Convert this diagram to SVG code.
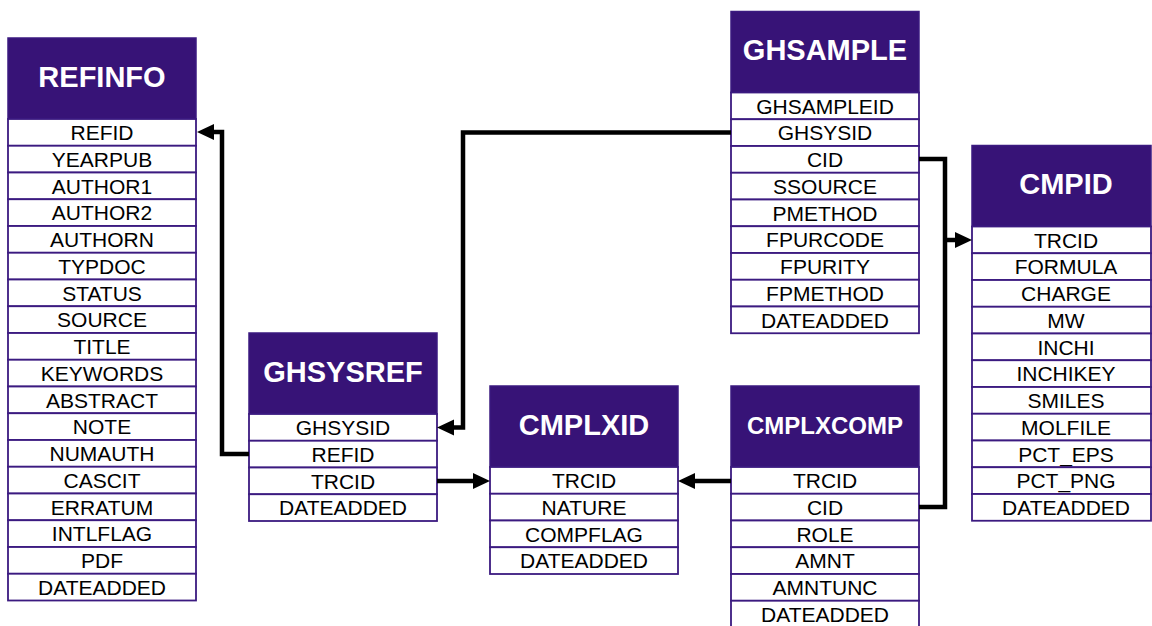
<svg xmlns="http://www.w3.org/2000/svg" width="1152" height="626" viewBox="0 0 1152 626">
<style>
.hd{fill:#371377;stroke:#3b1a80;stroke-width:1.5}
.row{fill:#fff;stroke:#3b1a80;stroke-width:1.8}
.ht{font-family:"Liberation Sans",Arial,sans-serif;font-weight:bold;font-size:29px;fill:#fff;text-anchor:middle}
.rt{font-family:"Liberation Sans",Arial,sans-serif;font-size:21px;fill:#000;text-anchor:middle}
.cn{fill:none;stroke:#000;stroke-width:4.5;stroke-linejoin:miter}
</style>
<defs>
<marker id="ah" markerUnits="userSpaceOnUse" markerWidth="18" markerHeight="18" viewBox="0 -9 18 18" refX="0" refY="0" orient="auto"><path d="M0,-8 L17,0 L0,8 z" fill="#000"/></marker>
</defs>
<rect width="1152" height="626" fill="#fff"/>

<g id="REFINFO">
<rect class="hd" x="8" y="38" width="188" height="81"/>
<text class="ht" x="102" y="86.5">REFINFO</text>
<rect class="row" x="8" y="119" width="188" height="26.75"/><text class="rt" x="102" y="140">REFID</text>
<rect class="row" x="8" y="145.75" width="188" height="26.75"/><text class="rt" x="102" y="166.75">YEARPUB</text>
<rect class="row" x="8" y="172.5" width="188" height="26.75"/><text class="rt" x="102" y="193.5">AUTHOR1</text>
<rect class="row" x="8" y="199.25" width="188" height="26.75"/><text class="rt" x="102" y="220.25">AUTHOR2</text>
<rect class="row" x="8" y="226" width="188" height="26.75"/><text class="rt" x="102" y="247">AUTHORN</text>
<rect class="row" x="8" y="252.75" width="188" height="26.75"/><text class="rt" x="102" y="273.75">TYPDOC</text>
<rect class="row" x="8" y="279.5" width="188" height="26.75"/><text class="rt" x="102" y="300.5">STATUS</text>
<rect class="row" x="8" y="306.25" width="188" height="26.75"/><text class="rt" x="102" y="327.25">SOURCE</text>
<rect class="row" x="8" y="333" width="188" height="26.75"/><text class="rt" x="102" y="354">TITLE</text>
<rect class="row" x="8" y="359.75" width="188" height="26.75"/><text class="rt" x="102" y="380.75">KEYWORDS</text>
<rect class="row" x="8" y="386.5" width="188" height="26.75"/><text class="rt" x="102" y="407.5">ABSTRACT</text>
<rect class="row" x="8" y="413.25" width="188" height="26.75"/><text class="rt" x="102" y="434.25">NOTE</text>
<rect class="row" x="8" y="440" width="188" height="26.75"/><text class="rt" x="102" y="461">NUMAUTH</text>
<rect class="row" x="8" y="466.75" width="188" height="26.75"/><text class="rt" x="102" y="487.75">CASCIT</text>
<rect class="row" x="8" y="493.5" width="188" height="26.75"/><text class="rt" x="102" y="514.5">ERRATUM</text>
<rect class="row" x="8" y="520.25" width="188" height="26.75"/><text class="rt" x="102" y="541.25">INTLFLAG</text>
<rect class="row" x="8" y="547" width="188" height="26.75"/><text class="rt" x="102" y="568">PDF</text>
<rect class="row" x="8" y="573.75" width="188" height="26.75"/><text class="rt" x="102" y="594.75">DATEADDED</text>
</g>

<g id="GHSAMPLE">
<rect class="hd" x="731" y="11.5" width="188" height="81"/>
<text class="ht" x="825" y="59.5">GHSAMPLE</text>
<rect class="row" x="731" y="92.5" width="188" height="26.75"/><text class="rt" x="825" y="113.5">GHSAMPLEID</text>
<rect class="row" x="731" y="119.25" width="188" height="26.75"/><text class="rt" x="825" y="140.25">GHSYSID</text>
<rect class="row" x="731" y="146" width="188" height="26.75"/><text class="rt" x="825" y="167">CID</text>
<rect class="row" x="731" y="172.75" width="188" height="26.75"/><text class="rt" x="825" y="193.75">SSOURCE</text>
<rect class="row" x="731" y="199.5" width="188" height="26.75"/><text class="rt" x="825" y="220.5">PMETHOD</text>
<rect class="row" x="731" y="226.25" width="188" height="26.75"/><text class="rt" x="825" y="247.25">FPURCODE</text>
<rect class="row" x="731" y="253" width="188" height="26.75"/><text class="rt" x="825" y="274">FPURITY</text>
<rect class="row" x="731" y="279.75" width="188" height="26.75"/><text class="rt" x="825" y="300.75">FPMETHOD</text>
<rect class="row" x="731" y="306.5" width="188" height="26.75"/><text class="rt" x="825" y="327.5">DATEADDED</text>
</g>

<g id="CMPID">
<rect class="hd" x="972" y="145.5" width="179" height="81"/>
<text class="ht" x="1066" y="194">CMPID</text>
<rect class="row" x="972" y="226.5" width="179" height="26.75"/><text class="rt" x="1066" y="247.5">TRCID</text>
<rect class="row" x="972" y="253.25" width="179" height="26.75"/><text class="rt" x="1066" y="274.25">FORMULA</text>
<rect class="row" x="972" y="280" width="179" height="26.75"/><text class="rt" x="1066" y="301">CHARGE</text>
<rect class="row" x="972" y="306.75" width="179" height="26.75"/><text class="rt" x="1066" y="327.75">MW</text>
<rect class="row" x="972" y="333.5" width="179" height="26.75"/><text class="rt" x="1066" y="354.5">INCHI</text>
<rect class="row" x="972" y="360.25" width="179" height="26.75"/><text class="rt" x="1066" y="381.25">INCHIKEY</text>
<rect class="row" x="972" y="387" width="179" height="26.75"/><text class="rt" x="1066" y="408">SMILES</text>
<rect class="row" x="972" y="413.75" width="179" height="26.75"/><text class="rt" x="1066" y="434.75">MOLFILE</text>
<rect class="row" x="972" y="440.5" width="179" height="26.75"/><text class="rt" x="1066" y="461.5">PCT_EPS</text>
<rect class="row" x="972" y="467.25" width="179" height="26.75"/><text class="rt" x="1066" y="488.25">PCT_PNG</text>
<rect class="row" x="972" y="494" width="179" height="26.75"/><text class="rt" x="1066" y="515">DATEADDED</text>
</g>

<g id="GHSYSREF">
<rect class="hd" x="249" y="333" width="188" height="81"/>
<text class="ht" x="343" y="381.5">GHSYSREF</text>
<rect class="row" x="249" y="414" width="188" height="26.75"/><text class="rt" x="343" y="435">GHSYSID</text>
<rect class="row" x="249" y="440.75" width="188" height="26.75"/><text class="rt" x="343" y="461.75">REFID</text>
<rect class="row" x="249" y="467.5" width="188" height="26.75"/><text class="rt" x="343" y="488.5">TRCID</text>
<rect class="row" x="249" y="494.25" width="188" height="26.75"/><text class="rt" x="343" y="515.25">DATEADDED</text>
</g>

<g id="CMPLXID">
<rect class="hd" x="490" y="386" width="188" height="81"/>
<text class="ht" x="584" y="435">CMPLXID</text>
<rect class="row" x="490" y="467" width="188" height="26.75"/><text class="rt" x="584" y="488">TRCID</text>
<rect class="row" x="490" y="493.75" width="188" height="26.75"/><text class="rt" x="584" y="514.75">NATURE</text>
<rect class="row" x="490" y="520.5" width="188" height="26.75"/><text class="rt" x="584" y="541.5">COMPFLAG</text>
<rect class="row" x="490" y="547.25" width="188" height="26.75"/><text class="rt" x="584" y="568.25">DATEADDED</text>
</g>

<g id="CMPLXCOMP">
<rect class="hd" x="731" y="386" width="188" height="81"/>
<text class="ht" x="825" y="433.5" style="font-size:24px">CMPLXCOMP</text>
<rect class="row" x="731" y="467" width="188" height="26.75"/><text class="rt" x="825" y="488">TRCID</text>
<rect class="row" x="731" y="493.75" width="188" height="26.75"/><text class="rt" x="825" y="514.75">CID</text>
<rect class="row" x="731" y="520.5" width="188" height="26.75"/><text class="rt" x="825" y="541.5">ROLE</text>
<rect class="row" x="731" y="547.25" width="188" height="26.75"/><text class="rt" x="825" y="568.25">AMNT</text>
<rect class="row" x="731" y="574" width="188" height="26.75"/><text class="rt" x="825" y="595">AMNTUNC</text>
<rect class="row" x="731" y="600.75" width="188" height="26.75"/><text class="rt" x="825" y="621.75">DATEADDED</text>
</g>

<g id="connectors">
<path class="cn" d="M249,454 H222 V132 H214" marker-end="url(#ah)"/>
<path class="cn" d="M731,132.5 H463 V427.5 H454" marker-end="url(#ah)"/>
<path class="cn" d="M919,159 H945 V507 H919"/>
<path class="cn" d="M945,240 H955" marker-end="url(#ah)"/>
<path class="cn" d="M437,481 H473" marker-end="url(#ah)"/>
<path class="cn" d="M731,481 H695" marker-end="url(#ah)"/>
</g>
</svg>
